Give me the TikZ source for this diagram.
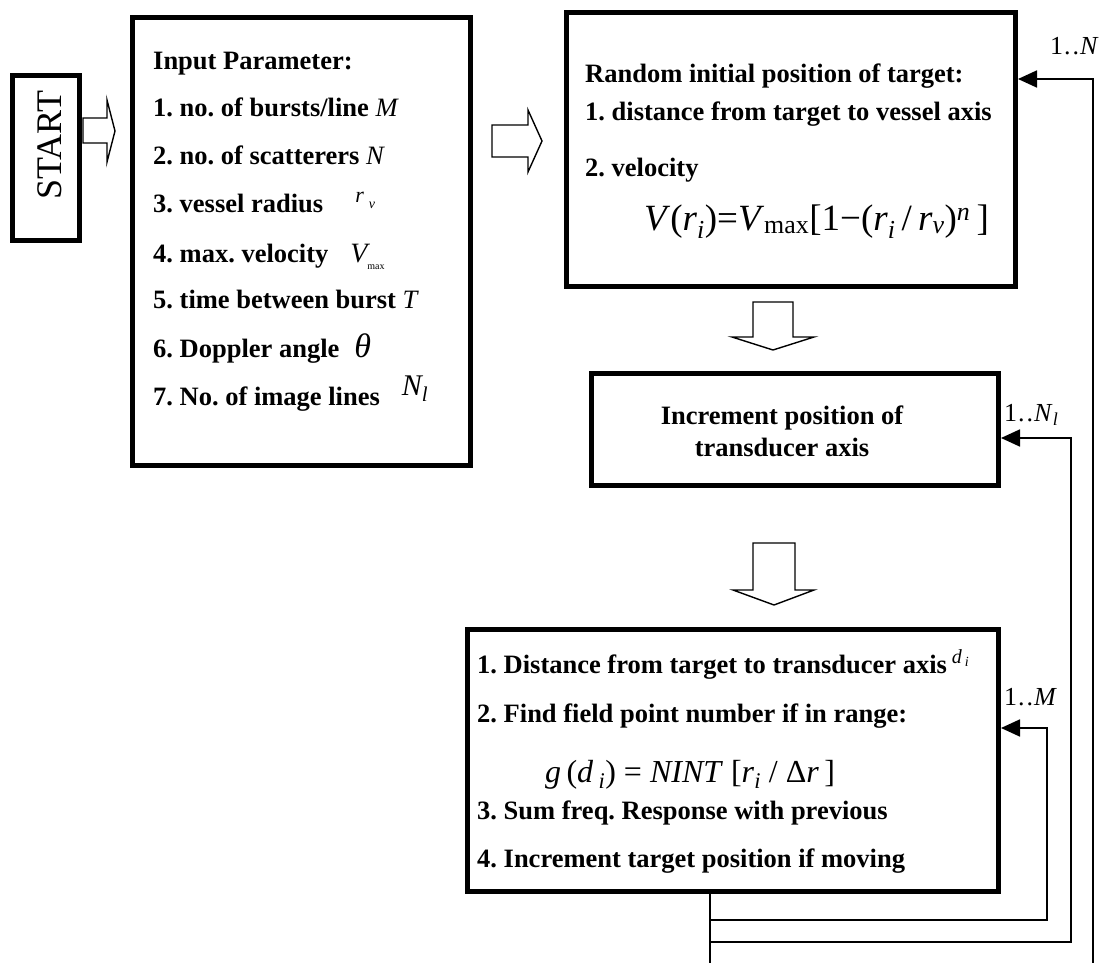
\documentclass[tikz,border=0pt]{standalone}
\usepackage{fontspec}
\setmainfont{Liberation Serif}
\usetikzlibrary{arrows.meta}
\frenchspacing

\tikzset{
  thickbox/.style={draw, line width=5pt, inner sep=0pt},
  blockarrow/.style={draw, line width=1.4pt},
  loopline/.style={draw, line width=1.8pt},
  looparrow/.style={loopline, -{Triangle[length=19pt,width=17pt]}},
  item/.style={anchor=base west, inner sep=0pt, font=\fontsize{26.5}{30}\selectfont\bfseries},
  loopnum/.style={anchor=base west, inner sep=0pt, font=\fontsize{26}{30}\selectfont},
}

\begin{document}
\begin{tikzpicture}[x=1pt,y=-1pt]
	\useasboundingbox (0,0) rectangle (1104,963);
	% boxes
	\node[thickbox, minimum width=67pt, minimum height=165pt] (start) at (46,158) {};
	\node[rotate=90, inner sep=0pt, font=\fontsize{36}{36}\selectfont] (starttxt) at (50,145) {START};
	\node[thickbox, minimum width=338pt, minimum height=448pt] (input) at (301.5,241.5) {};
	\node[thickbox, minimum width=449pt, minimum height=274pt] (random) at (791,149.5) {};
	\node[thickbox, minimum width=407pt, minimum height=112pt] (increment) at (795,429.5) {};
	\node[align=center, inner sep=0pt, font=\fontsize{26.5}{32}\selectfont\bfseries] (inctxt) at (782,431) {Increment position of\\transducer axis};
	\node[thickbox, minimum width=531pt, minimum height=262pt] (process) at (733,760.5) {};
	% input parameters
	\node[item] (in0) at (153,70) {Input Parameter:};
	\node[item] (in1) at (153,117) {1. no. of bursts/line {\mdseries\itshape M}};
	\node[item] (in2) at (153,165) {2. no. of scatterers {\mdseries\itshape N}};
	\node[item] (in3) at (153,213) {3. vessel radius\hspace{32pt}\raisebox{10pt}{\mdseries\itshape\fontsize{22}{22}\selectfont r\hspace{5pt}\raisebox{-5pt}{\fontsize{14}{14}\selectfont v}}};
	\node[item] (in4) at (153,262) {4. max. velocity\hspace{22pt}{\mdseries\itshape\fontsize{28}{28}\selectfont V}\raisebox{-7pt}{\mdseries\fontsize{10}{10}\selectfont max}};
	\node[item] (in5) at (153,308) {5. time between burst {\mdseries\itshape T}};
	\node[item] (in6) at (153,357) {6. Doppler angle\hspace{15pt}{\mdseries\itshape\fontsize{34}{34}\selectfont θ}};
	\node[item] (in7) at (153,405) {7. No. of image lines\hspace{22pt}\raisebox{10pt}{\mdseries\itshape\fontsize{30}{30}\selectfont N\textsubscript{l}}};
	% random position
	\node[item] (rnd0) at (585,83) {Random initial position of target:};
	\node[item] (rnd1) at (585,121) {1. distance from target to vessel axis};
	\node[item] (rnd2) at (585,177) {2. velocity};
	\node[anchor=base west, inner sep=0pt, font=\fontsize{37}{37}\selectfont] (rndeq) at (644,230) {\textit{V}(\textit{r}\textsubscript{\textit{i}})=\textit{V}\textsubscript{max}[1−(\textit{r}\textsubscript{\textit{i}}\,/\,\textit{r}\textsubscript{\textit{v}})\textsuperscript{\textit{n}}\,]};
	% field response
	\node[item] (prc1) at (477,673) {1. Distance from target to transducer axis\hspace{5pt}\raisebox{10pt}{\mdseries\itshape\fontsize{20}{20}\selectfont d\hspace{3pt}\textsubscript{i}}};
	\node[item] (prc2) at (477,722) {2. Find field point number if in range:};
	\node[anchor=base west, inner sep=0pt, font=\fontsize{32}{32}\selectfont] (prceq) at (545,782) {\textit{g}\,(\textit{d}\,\textsubscript{\textit{i}}) = \textit{NINT} [\textit{r}\textsubscript{\textit{i}} / Δ\textit{r}\,]};
	\node[item] (prc3) at (477,819) {3. Sum freq. Response with previous};
	\node[item] (prc4) at (477,867) {4. Increment target position if moving};
	% block arrows
	\draw[blockarrow] (83,118) -- (107,118) -- (107,100) -- (115,131) -- (107,162) -- (107,143) -- (83,143) -- cycle;
	\draw[blockarrow] (492,125) -- (528,125) -- (528,110) -- (542,141) -- (528,172) -- (528,157) -- (492,157) -- cycle;
	\draw[blockarrow] (753,302) -- (793,302) -- (793,337) -- (814,337) -- (773,350) -- (732,337) -- (753,337) -- cycle;
	\draw[blockarrow] (753,543) -- (795,543) -- (795,590) -- (814,590) -- (774,605) -- (733,590) -- (753,590) -- cycle;
	% loops
	\coordinate (tap) at (710,963);
	\coordinate (mturn) at (1047,728);
	\coordinate (nlturn) at (1071,438);
	\coordinate (nturn) at (1093,79);
	\draw[loopline] (process.south -| tap) -- (tap);
	\draw[looparrow] (tap |- 0,920) -| (mturn) -- (mturn -| process.east);
	\draw[looparrow] (tap |- 0,942) -| (nlturn) -- (nlturn -| increment.east);
	\draw[looparrow] (nturn |- tap) -- (nturn) -- (nturn -| random.east);
	\node[loopnum] (lblN) at (1050,55) {1{\kern1pt}.{\kern2pt}.{\kern1pt}\textit{N}};
	\node[loopnum] (lblNl) at (1004,421) {1{\kern1pt}.{\kern2pt}.{\kern1pt}\textit{N}\textsubscript{\textit{l}}};
	\node[loopnum] (lblM) at (1004,705) {1{\kern1pt}.{\kern2pt}.{\kern1pt}\textit{M}};
\end{tikzpicture}
\end{document}
